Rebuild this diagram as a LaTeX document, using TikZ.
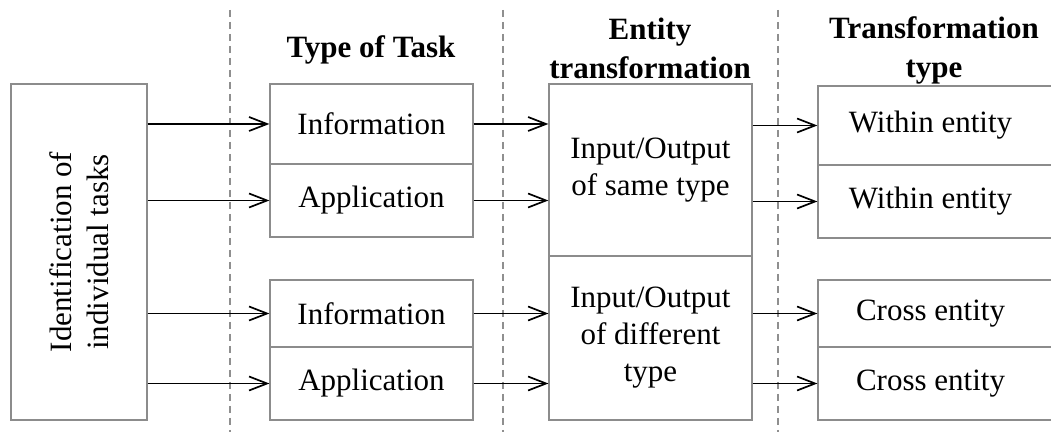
\documentclass[tikz,border=0pt]{standalone}
\usepackage{fontspec}
\setmainfont{Liberation Serif}
\usetikzlibrary{arrows.meta}
\definecolor{boxgray}{HTML}{8C8C8C}
\definecolor{dashgray}{HTML}{8F8F8F}
\begin{document}
\begin{tikzpicture}[x=0.5pt,y=-0.5pt,
  box/.style={draw=boxgray, line width=0.6pt, inner sep=0pt, align=center,
    font=\fontsize{15.5}{18.5}\selectfont},
  head/.style={inner sep=0pt, align=center, font=\fontsize{15.5}{19.5}\selectfont\bfseries},
  conn/.style={line width=0.85pt, -{Straight Barb[length=9pt,width=7pt]}},
  sep/.style={draw=dashgray, line width=0.55pt, dash pattern=on 3.5pt off 2.5pt}
]
\useasboundingbox (0,0) rectangle (1051,432);
% separators
\draw[sep] (230,10) -- (230,432);
\draw[sep] (503,10) -- (503,432);
\draw[sep] (778,10) -- (778,432);
% headings
\node[head] (h1) at (371,50) {Type of Task};
\node[head] (h2) at (650,48) {Entity\\transformation};
\node[head] (h3) at (934,50) {Transformation\\type};
% left box
\node[box, rotate=90, minimum width=168pt, minimum height=68pt] (left) at (79,252) {Identification of\\individual tasks};
% type of task
\node[box, minimum width=101.5pt, minimum height=40pt] (ti1) at (371.5,124) {Information};
\node[box, minimum width=101.5pt, minimum height=36.5pt] (ta1) at (371.5,200.5) {Application};
\node[box, minimum width=101.5pt, minimum height=33.5pt] (ti2) at (371.5,313.5) {Information};
\node[box, minimum width=101.5pt, minimum height=36.5pt] (ta2) at (371.5,383.5) {Application};
% entity transformation
\node[box, minimum width=101.5pt, minimum height=86pt] (et1) at (650.5,170) {Input/Output\\of same type};
\node[box, minimum width=101.5pt, minimum height=82pt] (et2) at (650.5,338) {Input/Output\\of different\\type};
% transformation type
\node[box, minimum width=118.5pt, minimum height=39.5pt] (tw1) at (936.5,125.5) {Within entity\kern6pt};
\node[box, minimum width=118.5pt, minimum height=36.5pt] (tw2) at (936.5,201.5) {Within entity\kern6pt};
\node[box, minimum width=118.5pt, minimum height=33.5pt] (tc1) at (936.5,313.5) {Cross entity\kern6pt};
\node[box, minimum width=118.5pt, minimum height=36.5pt] (tc2) at (936.5,383.5) {Cross entity\kern6pt};
% connectors
\draw[conn] (left.south |- ti1.west) -- (ti1.west);
\draw[conn] (left.south |- ta1.west) -- (ta1.west);
\draw[conn] (left.south |- ti2.west) -- (ti2.west);
\draw[conn] (left.south |- ta2.west) -- (ta2.west);
\draw[conn] (ti1.east) -- (ti1.east -| et1.west);
\draw[conn] (ta1.east) -- (ta1.east -| et1.west);
\draw[conn] (ti2.east) -- (ti2.east -| et2.west);
\draw[conn] (ta2.east) -- (ta2.east -| et2.west);
\draw[conn] (et1.east |- tw1.west) -- (tw1.west);
\draw[conn] (et1.east |- tw2.west) -- (tw2.west);
\draw[conn] (et2.east |- tc1.west) -- (tc1.west);
\draw[conn] (et2.east |- tc2.west) -- (tc2.west);
\end{tikzpicture}
\end{document}
